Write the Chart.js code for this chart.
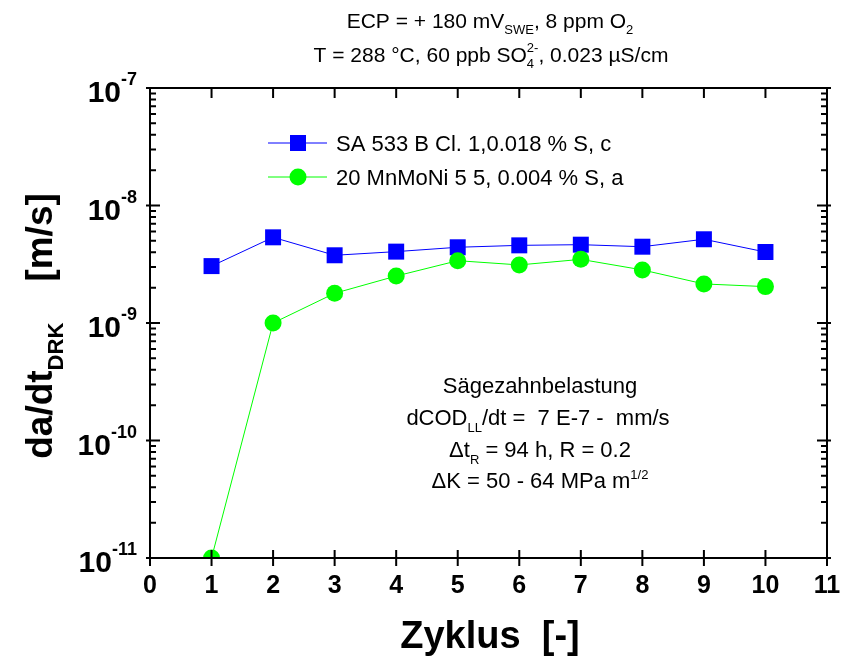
<!DOCTYPE html>
<html>
<head>
<meta charset="utf-8">
<script src="https://cdn.jsdelivr.net/npm/chart.js@4/dist/chart.umd.min.js"></script>
<style>
  html, body { margin: 0; padding: 0; background: #fff; }
  #c { display: block; }
</style>
</head>
<body>
<canvas id="c" width="841" height="659"></canvas>
<script>
// cycle number vs. crack growth rate (m/s)
const cycles = [1, 2, 3, 4, 5, 6, 7, 8, 9, 10];
const rateSA533 = [3.05e-9, 5.36e-9, 3.77e-9, 4.05e-9, 4.41e-9, 4.58e-9, 4.64e-9, 4.46e-9, 5.16e-9, 4.02e-9];
const rateMnMoNi = [1.0e-11, 1.0e-9, 1.79e-9, 2.51e-9, 3.39e-9, 3.12e-9, 3.48e-9, 2.83e-9, 2.15e-9, 2.04e-9];
const xTicks = [0, 1, 2, 3, 4, 5, 6, 7, 8, 9, 10, 11];
const yDecades = [-11, -10, -9, -8, -7];

const seriesNames = ['SA 533 B Cl. 1,0.018 % S, c', '20 MnMoNi 5 5, 0.004 % S, a'];
const BLUE = '#0000ff';
const GREEN = '#00ff00';
const FAMILY = '"Liberation Sans", Arial, sans-serif';

const pts = (ys) => cycles.map((x, i) => ({x, y: ys[i]}));

// text with sub/superscripts; parts = [[text, kind]], kind '', 'sub', 'sup' or 'stack' ([sub, sup])
function richText(ctx, parts, x, y, align, size, weight) {
  weight = weight || 'normal';
  const small = Math.round(size * 0.6);
  const font = (s) => `${weight} ${s}px ${FAMILY}`;
  const widthOf = (p) => {
    const [t, kind] = p;
    if (kind === 'stack') {
      ctx.font = font(small);
      return Math.max(ctx.measureText(t[0]).width, ctx.measureText(t[1]).width);
    }
    ctx.font = font(kind ? small : size);
    return ctx.measureText(t).width;
  };
  const total = parts.reduce((s, p) => s + widthOf(p), 0);
  let cx = align === 'center' ? x - total / 2 : align === 'right' ? x - total : x;
  ctx.textAlign = 'left';
  ctx.textBaseline = 'alphabetic';
  parts.forEach(p => {
    const [t, kind] = p;
    const w = widthOf(p);
    if (kind === 'stack') {
      ctx.font = font(small);
      ctx.fillText(t[0], cx, y + size * 0.3);
      ctx.fillText(t[1], cx, y - size * 0.5);
    } else if (kind === 'sub') {
      ctx.font = font(small);
      ctx.fillText(t, cx, y + size * 0.3);
    } else if (kind === 'sup') {
      ctx.font = font(small);
      ctx.fillText(t, cx, y - size * 0.42);
    } else {
      ctx.font = font(size);
      ctx.fillText(t, cx, y);
    }
    cx += w;
  });
}

// "10" with a raised exponent, right aligned
function powerLabel(ctx, exp, right, py) {
  ctx.textAlign = 'left';
  ctx.textBaseline = 'alphabetic';
  ctx.font = `bold 18px ${FAMILY}`;
  const we = ctx.measureText(String(exp)).width;
  ctx.font = `bold 30px ${FAMILY}`;
  const wb = ctx.measureText('10').width;
  ctx.fillText('10', right - we - wb, py + 14);
  ctx.font = `bold 18px ${FAMILY}`;
  ctx.fillText(String(exp), right - we, py - 3);
}

const framePlugin = {
  id: 'frame',
  afterDatasetsDraw(chart) {
    const {ctx, chartArea: a, scales: {x, y}} = chart;
    ctx.save();
    ctx.strokeStyle = '#000';
    ctx.fillStyle = '#000';
    ctx.lineWidth = 2;
    ctx.strokeRect(a.left, a.top, a.right - a.left, a.bottom - a.top);

    ctx.beginPath();
    xTicks.forEach(v => {
      const px = x.getPixelForValue(v);
      ctx.moveTo(px, a.bottom - 8); ctx.lineTo(px, a.bottom + 8);
      ctx.moveTo(px, a.top); ctx.lineTo(px, a.top + 10);
    });
    yDecades.forEach(e => {
      const py = y.getPixelForValue(Math.pow(10, e));
      ctx.moveTo(a.left - 4, py); ctx.lineTo(a.left + 10, py);
      ctx.moveTo(a.right + 4, py); ctx.lineTo(a.right - 10, py);
      if (e === -7) return;
      for (let m = 2; m <= 9; m++) {
        const pm = y.getPixelForValue(m * Math.pow(10, e));
        ctx.moveTo(a.left, pm); ctx.lineTo(a.left + 6, pm);
        ctx.moveTo(a.right, pm); ctx.lineTo(a.right - 6, pm);
      }
    });
    ctx.stroke();

    // tick labels
    xTicks.forEach(v => {
      richText(ctx, [[String(v), '']], x.getPixelForValue(v), a.bottom + 35, 'center', 25, 'bold');
    });
    yDecades.forEach(e => powerLabel(ctx, e, 137, y.getPixelForValue(Math.pow(10, e))));

    // axis titles
    richText(ctx, [['Zyklus  [-]', '']], 490, 648, 'center', 38, 'bold');
    ctx.save();
    ctx.translate(52, 326);
    ctx.rotate(-Math.PI / 2);
    richText(ctx, [['da/dt', ''], ['DRK', 'sub'], ['    [m/s]', '']], 0, 0, 'center', 37, 'bold');
    ctx.restore();

    // heading
    richText(ctx, [['ECP = + 180 mV', ''], ['SWE', 'sub'], [', 8 ppm O', ''], ['2', 'sub']], 490, 28, 'center', 21);
    richText(ctx, [['T = 288 °C, 60 ppb SO', ''], [['4', '2-'], 'stack'], [', 0.023 µS/cm', '']], 491, 62, 'center', 21);

    // legend
    const legendRows = [
      {name: seriesNames[0], color: BLUE, shape: 'rect', yy: 143},
      {name: seriesNames[1], color: GREEN, shape: 'circle', yy: 177}
    ];
    legendRows.forEach(r => {
      ctx.strokeStyle = r.color;
      ctx.fillStyle = r.color;
      ctx.lineWidth = 1;
      ctx.beginPath();
      ctx.moveTo(268, r.yy); ctx.lineTo(327, r.yy);
      ctx.stroke();
      if (r.shape === 'rect') {
        ctx.fillRect(298 - 8, r.yy - 8, 16, 16);
      } else {
        ctx.beginPath();
        ctx.arc(298, r.yy, 8.5, 0, Math.PI * 2);
        ctx.fill();
      }
      ctx.fillStyle = '#000';
      richText(ctx, [[r.name, '']], 336, r.yy + 8, 'left', 22);
    });

    // test conditions
    ctx.fillStyle = '#000';
    richText(ctx, [['Sägezahnbelastung', '']], 540, 393, 'center', 22);
    richText(ctx, [['dCOD', ''], ['LL', 'sub'], ['/dt =  7 E-7 -  mm/s', '']], 538, 425, 'center', 22);
    richText(ctx, [['\u0394t', ''], ['R', 'sub'], [' = 94 h, R = 0.2', '']], 540, 457, 'center', 22);
    richText(ctx, [['\u0394K = 50 - 64 MPa m', ''], ['1/2', 'sup']], 540, 488, 'center', 22);
    ctx.restore();
  }
};

new Chart(document.getElementById('c'), {
  type: 'line',
  data: {
    datasets: [
      {
        label: seriesNames[0],
        data: pts(rateSA533),
        borderColor: BLUE,
        backgroundColor: BLUE,
        borderWidth: 1,
        pointStyle: 'rect',
        pointRadius: 11.3,
        pointBorderWidth: 0,
        order: 2,
        clip: 0
      },
      {
        label: seriesNames[1],
        data: pts(rateMnMoNi),
        borderColor: GREEN,
        backgroundColor: GREEN,
        borderWidth: 1,
        pointStyle: 'circle',
        pointRadius: 8.5,
        pointBorderWidth: 0,
        order: 1,
        clip: 0
      }
    ]
  },
  options: {
    responsive: false,
    animation: false,
    devicePixelRatio: 1,
    layout: {padding: {left: 150, top: 88, right: 14, bottom: 101}},
    plugins: {legend: {display: false}, tooltip: {enabled: false}},
    scales: {
      x: {type: 'linear', min: 0, max: 11, display: false},
      y: {type: 'logarithmic', min: 1e-11, max: 1e-7, display: false}
    }
  },
  plugins: [framePlugin]
});
</script>
</body>
</html>
